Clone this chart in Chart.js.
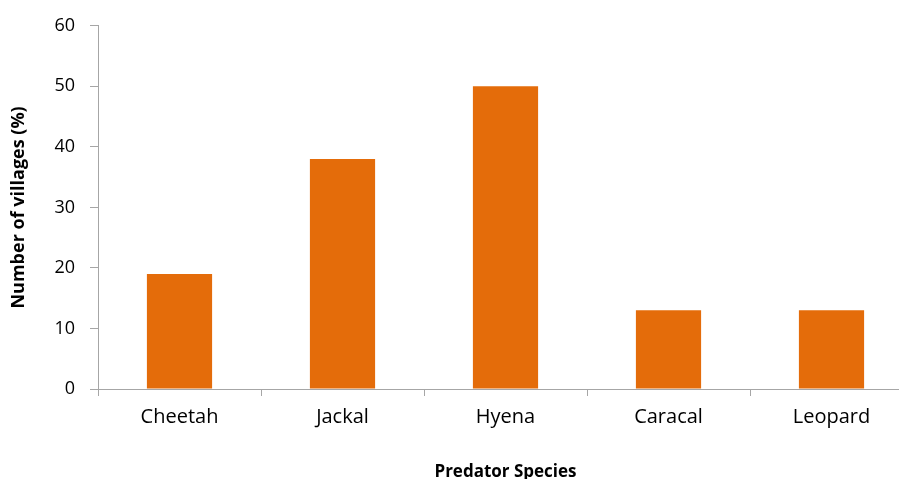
<!DOCTYPE html>
<html>
<head>
<meta charset="utf-8">
<script src="https://cdn.jsdelivr.net/npm/chart.js@4/dist/chart.umd.min.js"></script>
<style>
  html, body { margin: 0; padding: 0; background: #fff; overflow: hidden; }
  #wrap { width: 913px; height: 482px; }
</style>
</head>
<body>
<div id="wrap"><canvas id="chart" width="913" height="482"></canvas></div>
<script>
// Predator species vs share of villages
const species = ['Cheetah', 'Jackal', 'Hyena', 'Caracal', 'Leopard'];
const villagePct = [19, 38, 50, 13, 13];
const yTicks = [0, 10, 20, 30, 40, 50, 60];

const axisGrey = '#a6a6a6';
const fontFamily = '"Open Sans", sans-serif';

let ctx = document.getElementById('chart').getContext('2d');

let chart = new Chart(ctx, {
    type: 'bar',
    data: {
        labels: species,
        datasets: [{
            data: villagePct,
            backgroundColor: '#e46c0a',
            borderWidth: 0,
            barPercentage: 0.4,
            categoryPercentage: 1
        }]
    },
    options: {
        responsive: false,
        animation: false,
        layout: { padding: { left: 0, right: 0, top: 23, bottom: 0 } },
        plugins: { legend: { display: false }, tooltip: { enabled: false } },
        scales: {
            x: {
                grid: {
                    display: true,
                    drawOnChartArea: false,
                    offset: true,
                    tickLength: 7,
                    color: axisGrey
                },
                border: { color: axisGrey, width: 1 },
                ticks: { color: '#000', font: { family: fontFamily, size: 20 }, padding: 9 },
                title: {
                    display: true,
                    text: 'Predator Species',
                    color: '#000',
                    font: { family: fontFamily, size: 17, weight: 'bold' },
                    padding: { top: 22, bottom: 0 }
                },
                afterFit: (s) => { s.height = 93; }
            },
            y: {
                min: 0,
                max: 60,
                afterBuildTicks: (s) => { s.ticks = yTicks.map(v => ({ value: v })); },
                grid: {
                    display: true,
                    drawOnChartArea: false,
                    tickLength: 8,
                    color: axisGrey
                },
                border: { color: axisGrey, width: 1 },
                ticks: { color: '#000', font: { family: fontFamily, size: 18 }, padding: 15 },
                title: {
                    display: true,
                    text: 'Number of villages (%)',
                    color: '#000',
                    font: { family: fontFamily, size: 18, weight: 'bold' },
                    padding: { top: 8, bottom: 4 }
                },
                afterFit: (s) => { s.width = 98; }
            }
        }
    }
});
</script>
</body>
</html>
